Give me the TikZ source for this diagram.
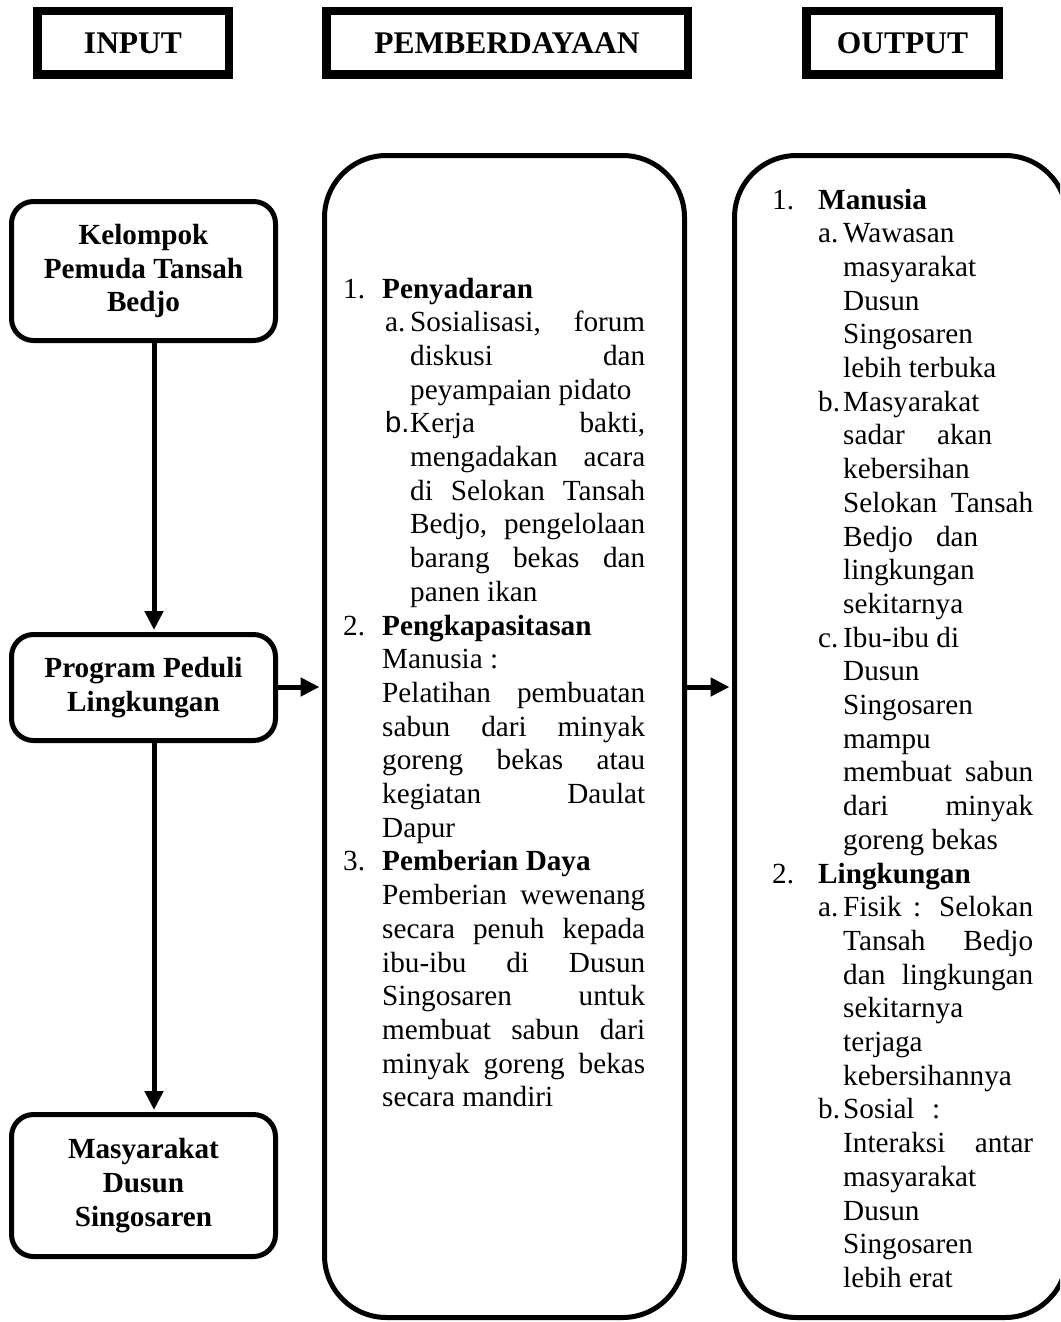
\documentclass[tikz,border=0pt]{standalone}
\usepackage{fontspec}
\setmainfont{Liberation Serif}
\newfontfamily\arialf{Liberation Sans}
\usetikzlibrary{arrows.meta}
\hbadness=10000
\hfuzz=200pt
\newcommand\Li[2]{\hbox{\kern#1pt #2}}
\newcommand\Lj[3]{\hbox{\kern#1pt\hbox to #2pt{#3}}}
\tikzset{
  hdrbox/.style={draw, line width=8.5pt, inner sep=0pt, font=\fontsize{31.5}{36}\selectfont\bfseries},
  smallbox/.style={draw, line width=5pt, rounded corners=22pt, minimum width=264pt, align=center,
    font=\fontsize{29.2}{33.7}\selectfont\bfseries, inner sep=0pt},
  bigbox/.style={draw, line width=5pt, rounded corners=62pt, inner sep=0pt},
  flow/.style={line width=5pt, -{Triangle[length=19pt,width=18pt]}},
  coltext/.style={anchor=base west, inner sep=0pt, font=\fontsize{29.2}{33.7}\selectfont},
}
\begin{document}
\begin{tikzpicture}[x=1pt,y=-1pt]
\useasboundingbox (0,0) rectangle (1060,1322);
\clip (0,0) rectangle (1060,1322);
\fill[white] (0,0) rectangle (1060,1322);

% headers
\node[hdrbox, minimum width=191.5pt, minimum height=63.5pt] (hin) at (133,43) {INPUT};
\node[hdrbox, minimum width=361.5pt, minimum height=63.5pt] (hpem) at (507,43) {PEMBERDAYAAN};
\node[hdrbox, minimum width=192.5pt, minimum height=63.5pt] (hout) at (902.5,43) {OUTPUT};

% left boxes
\node[smallbox, minimum height=139pt] (kel) at (143.5,271) {Kelompok\\Pemuda Tansah\\Bedjo};
\node[smallbox, minimum height=106pt] (prog) at (143.5,687.5) {Program Peduli\\Lingkungan};
\node[smallbox, minimum height=142pt] (mas) at (143.5,1185.5) {Masyarakat\\Dusun\\Singosaren};

% big boxes
\node[bigbox, minimum width=360pt, minimum height=1162pt] (mid) at (504.5,736.5) {};
\node[bigbox, minimum width=332.5pt, minimum height=1162pt] (out) at (900.75,736.5) {};

% connectors
\coordinate (ax) at (154,0);
\coordinate (hy) at (0,687);
\draw[flow, shorten >=2pt] (kel.south -| ax) -- (prog.north -| ax);
\draw[flow, shorten >=2pt] (prog.south -| ax) -- (mas.north -| ax);
\draw[flow, shorten >=2.5pt] (prog.east |- hy) -- (mid.west |- hy);
\draw[flow, shorten >=2.5pt] (mid.east |- hy) -- (out.west |- hy);

% middle column text
\node[coltext] (midtext) at (343,298) {\vtop{%
\Li{0}{\hbox to 39pt{1.\hfil}\textbf{Penyadaran}}
\Li{42}{\hbox to 25pt{a.\hfil}\hbox to 235pt{Sosialisasi, forum}}
\Lj{67}{235}{diskusi dan}
\Li{67}{peyampaian pidato}
\Li{42}{\hbox to 25pt{\arialf b.\hfil}\hbox to 235pt{Kerja bakti,}}
\Lj{67}{235}{mengadakan acara}
\Lj{67}{235}{di Selokan Tansah}
\Lj{67}{235}{Bedjo, pengelolaan}
\Lj{67}{235}{barang bekas dan}
\Li{67}{panen ikan}
\Li{0}{\hbox to 39pt{2.\hfil}\textbf{Pengkapasitasan}}
\Li{39}{Manusia :}
\Lj{39}{263}{Pelatihan pembuatan}
\Lj{39}{263}{sabun dari minyak}
\Lj{39}{263}{goreng bekas atau}
\Lj{39}{263}{kegiatan Daulat}
\Li{39}{Dapur}
\Li{0}{\hbox to 39pt{3.\hfil}\textbf{Pemberian Daya}}
\Lj{39}{263}{Pemberian wewenang}
\Lj{39}{263}{secara penuh kepada}
\Lj{39}{263}{ibu-ibu di Dusun}
\Lj{39}{263}{Singosaren untuk}
\Lj{39}{263}{membuat sabun dari}
\Lj{39}{263}{minyak goreng bekas}
\Li{39}{secara mandiri}}};

% output column text
\node[coltext] (outtext) at (772,209) {\vtop{%
\Li{0}{\hbox to 46pt{1.\hfil}\textbf{Manusia}}
\Li{46}{\hbox to 25pt{a.\hfil}Wawasan}
\Li{71}{masyarakat}
\Li{71}{Dusun}
\Li{71}{Singosaren}
\Li{71}{lebih terbuka}
\Li{46}{\hbox to 25pt{b.\hfil}Masyarakat}
\Lj{71}{149}{sadar akan}
\Li{71}{kebersihan}
\Lj{71}{190}{Selokan Tansah}
\Lj{71}{135}{Bedjo dan}
\Li{71}{lingkungan}
\Li{71}{sekitarnya}
\Li{46}{\hbox to 25pt{c.\hfil}Ibu-ibu di}
\Li{71}{Dusun}
\Li{71}{Singosaren}
\Li{71}{mampu}
\Lj{71}{190}{membuat sabun}
\Lj{71}{190}{dari minyak}
\Li{71}{goreng bekas}
\Li{0}{\hbox to 46pt{2.\hfil}\textbf{Lingkungan}}
\Li{46}{\hbox to 25pt{a.\hfil}\hbox to 190pt{Fisik : Selokan}}
\Lj{71}{190}{Tansah Bedjo}
\Lj{71}{190}{dan lingkungan}
\Li{71}{sekitarnya}
\Li{71}{terjaga}
\Li{71}{kebersihannya}
\Li{46}{\hbox to 25pt{b.\hfil}\hbox to 97pt{Sosial :}}
\Lj{71}{190}{Interaksi antar}
\Li{71}{masyarakat}
\Li{71}{Dusun}
\Li{71}{Singosaren}
\Li{71}{lebih erat}}};
\end{tikzpicture}
\end{document}
